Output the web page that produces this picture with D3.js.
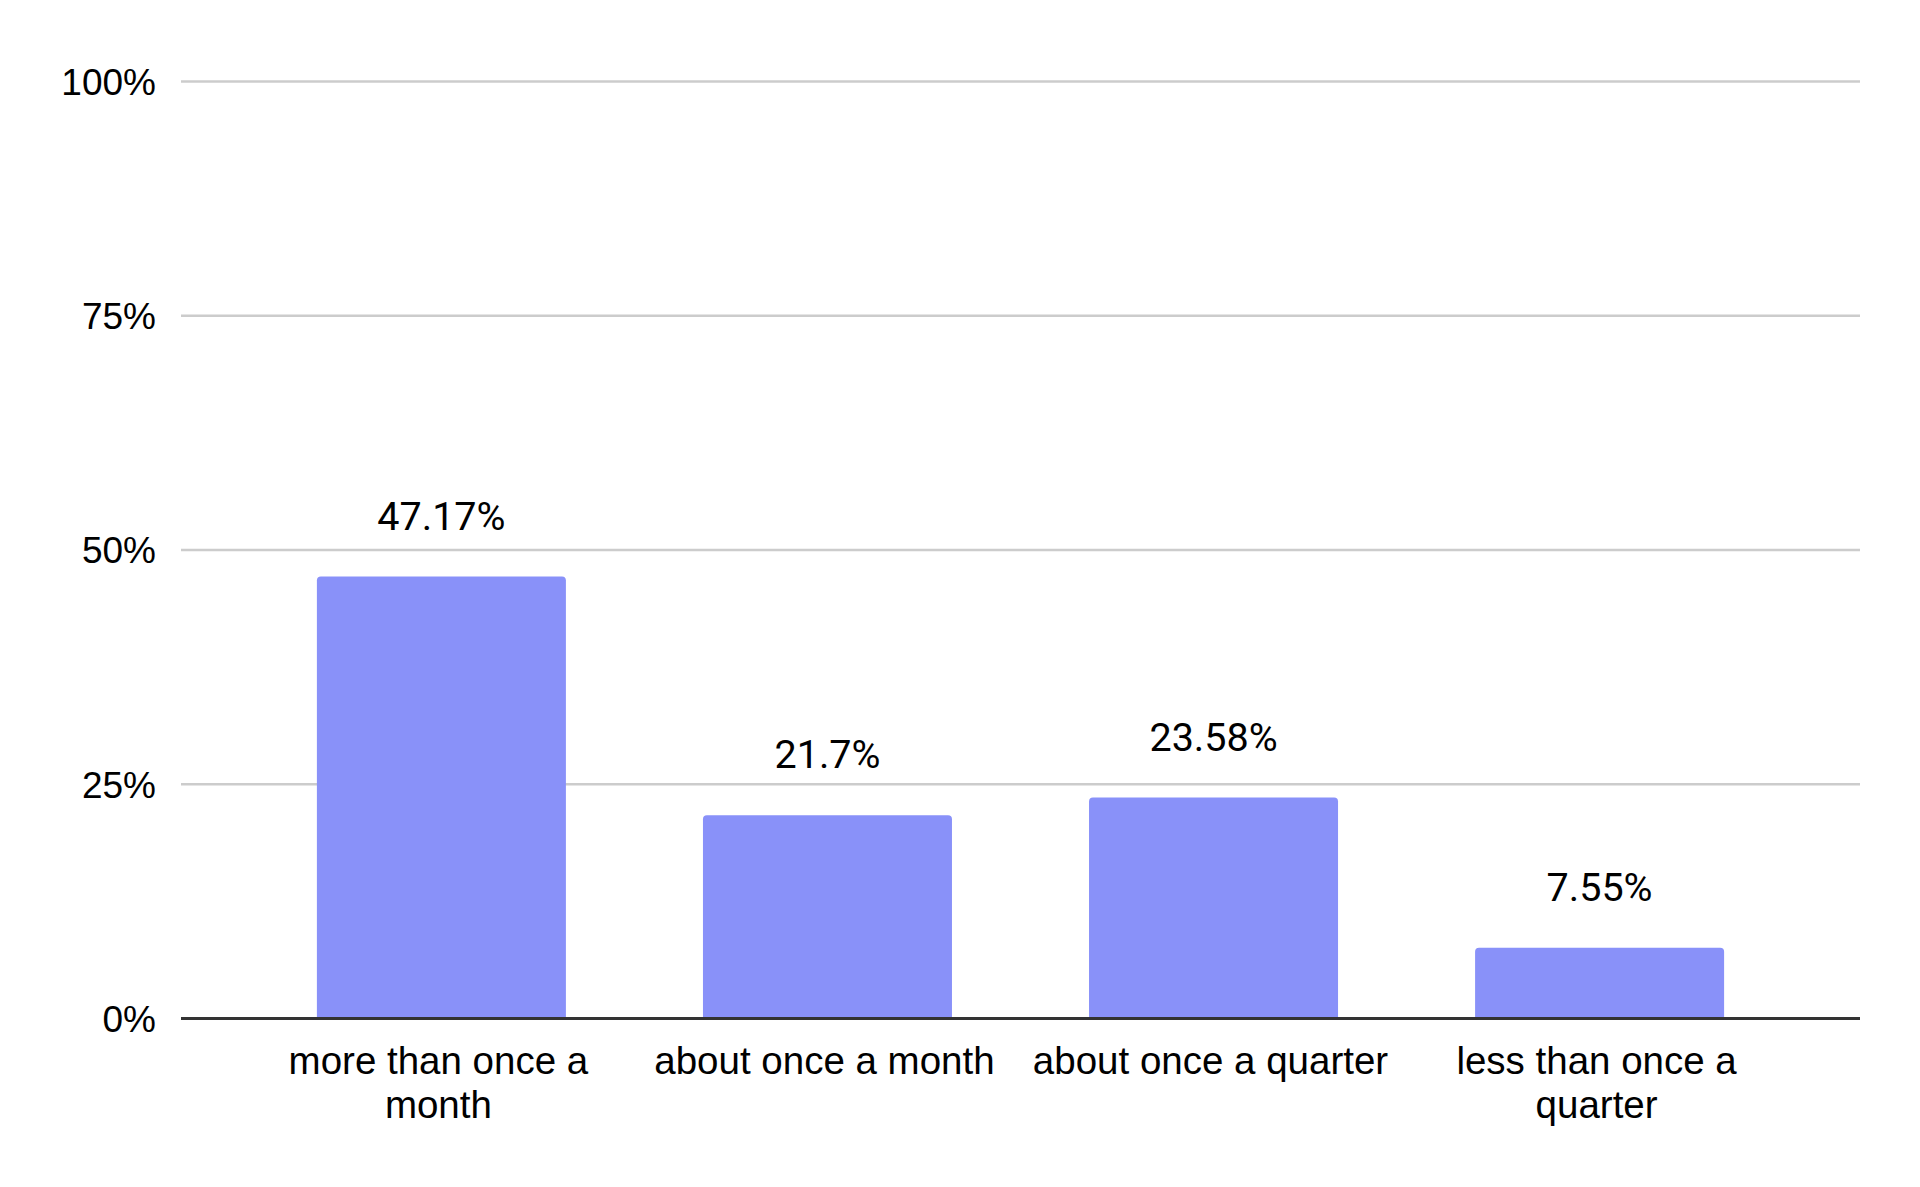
<!DOCTYPE html>
<html>
<head>
<meta charset="utf-8">
<script src="https://cdn.jsdelivr.net/npm/d3@7"></script>
<style>
  html, body { margin: 0; padding: 0; background: #fff; }
  svg { display: block; }
  .tick-label { font-family: "Liberation Sans", Arial, sans-serif; font-size: 37px; fill: #000; }
  .cat-label { font-family: "Liberation Sans", Arial, sans-serif; font-size: 38.5px; fill: #000; }
  .value-label { font-family: Roboto, "Liberation Sans", sans-serif; font-size: 39.5px; fill: #000; }
</style>
</head>
<body>
<div id="chart"></div>
<script>
// Category labels (pre-split where the original wraps) and values in percent
const categories = [
  ['more than once a', 'month'],
  ['about once a month'],
  ['about once a quarter'],
  ['less than once a', 'quarter'],
];
const values = [47.17, 21.7, 23.58, 7.55];
const valueLabels = ['47.17%', '21.7%', '23.58%', '7.55%'];
const yTicks = [0, 25, 50, 75, 100];

const BAR_COLOR = '#8991f9';
const WIDTH = 1920;
const HEIGHT = 1187;

// Plot area in page pixels
const plot = { left: 181, right: 1860, top: 81.5, bottom: 1018.5 };

const svg = d3.select('#chart')
  .append('svg')
  .attr('width', WIDTH)
  .attr('height', HEIGHT);

const x = d3.scaleBand()
  .domain(d3.range(values.length))
  .range([plot.left, plot.right])
  .paddingInner(0.355)
  .paddingOuter(0.352);

const y = d3.scaleLinear()
  .domain([0, 100])
  .range([plot.bottom, plot.top]);

// Gridlines (the zero line is drawn darker afterwards)
svg.append('g')
  .selectAll('line')
  .data(yTicks.filter(t => t > 0))
  .enter().append('line')
  .attr('x1', plot.left)
  .attr('x2', plot.right)
  .attr('y1', d => y(d))
  .attr('y2', d => y(d))
  .attr('stroke', '#cccccc')
  .attr('stroke-width', 2.5);

// Y tick labels
svg.append('g')
  .selectAll('text')
  .data(yTicks)
  .enter().append('text')
  .attr('class', 'tick-label')
  .attr('x', 156)
  .attr('y', d => y(d))
  .attr('dy', '0.36em')
  .attr('text-anchor', 'end')
  .text(d => `${d}%`);

// Bars with slightly rounded top corners
const r = 4;
function barPath(x0, w, top, bottom) {
  return `M${x0},${bottom}V${top + r}Q${x0},${top} ${x0 + r},${top}` +
    `H${x0 + w - r}Q${x0 + w},${top} ${x0 + w},${top + r}V${bottom}Z`;
}

svg.append('g')
  .selectAll('path')
  .data(values)
  .enter().append('path')
  .attr('d', (d, i) => barPath(x(i), x.bandwidth(), y(d), y(0)))
  .attr('fill', BAR_COLOR);

// Value labels above bars
svg.append('g')
  .selectAll('text')
  .data(values)
  .enter().append('text')
  .attr('class', 'value-label')
  .attr('x', (d, i) => x(i) + x.bandwidth() / 2)
  .attr('y', d => y(d) - 47)
  .attr('text-anchor', 'middle')
  .text((d, i) => valueLabels[i]);

// Baseline
svg.append('line')
  .attr('x1', plot.left)
  .attr('x2', plot.right)
  .attr('y1', y(0))
  .attr('y2', y(0))
  .attr('stroke', '#333333')
  .attr('stroke-width', 3);

// Category labels, wrapped over two lines where needed
const catG = svg.append('g')
  .selectAll('text')
  .data(categories)
  .enter().append('text')
  .attr('class', 'cat-label')
  .attr('text-anchor', 'middle')
  .attr('x', (d, i) => x(i) + x.bandwidth() / 2 - 3)
  .attr('y', 1074);

catG.selectAll('tspan')
  .data(d => d)
  .enter().append('tspan')
  .attr('x', function () { return d3.select(this.parentNode).attr('x'); })
  .attr('dy', (d, i) => i === 0 ? 0 : 44)
  .text(d => d);
</script>
</body>
</html>
